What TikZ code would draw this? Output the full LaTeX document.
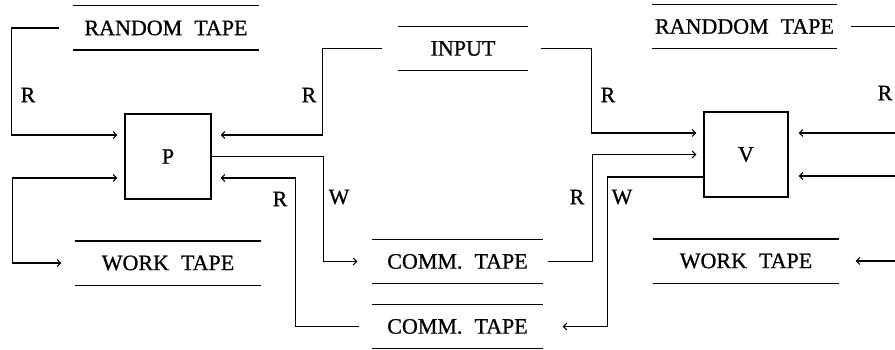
\documentclass[tikz,border=0pt]{standalone}
\usepackage{fontspec}
\setmainfont{Liberation Serif}[FakeBold=0.8]
\usetikzlibrary{arrows.meta,calc}
\newcommand\gap{\hspace{12pt}}
\begin{document}
\begin{tikzpicture}[x=1pt,y=-1pt,line width=1.1pt,
  lbl/.style={font=\fontsize{22}{22}\selectfont, inner sep=0pt},
  tape/.style={lbl, minimum height=43pt, minimum width=#1},
  proc/.style={draw, lbl, minimum width=#1, minimum height=85pt},
  conn/.style={-{Straight Barb[length=3.5pt,width=7pt]}},
  both/.style={{Straight Barb[length=3.5pt,width=7pt]}-{Straight Barb[length=3.5pt,width=7pt]}}]
\useasboundingbox (0,0) rectangle (895,350);
\clip (0,0) rectangle (895,350);
% tapes
\node[tape=184pt] (rt1)   at (166,28)    {\raisebox{-3pt}{RANDOM\gap TAPE}};
\node[tape=128pt] (input) at (463,48.5)  {INPUT};
\node[tape=184pt] (wt1)   at (168,263)   {WORK\gap TAPE};
\node[tape=169pt] (comm1) at (457.5,261.5) {COMM.\gap TAPE};
\node[tape=169pt] (comm2) at (457.5,326.5) {COMM.\gap TAPE};
\node[tape=183pt] (rt2)   at (744.5,26.5) {RANDDOM\gap TAPE};
\node[tape=184pt] (wt2)   at (746,261)   {WORK\gap TAPE};
\foreach \t in {rt1,input,wt1,comm1,comm2,rt2,wt2}
  \draw (\t.north west) -- (\t.north east) (\t.south west) -- (\t.south east);
% machines
\node[proc=86pt] (P) at (168,156.5) {P};
\node[proc=84pt] (V) at (746,154.5) {V};
% connectors
\draw[conn, shorten <=14pt, shorten >=7pt] (rt1.west) -| ($(P.west)+(-113,-21.5)$) -- ($(P.west)+(0,-21.5)$);
\draw[both, shorten <=7pt, shorten >=14pt] ($(P.west)+(0,21.5)$) -| ($(wt1.west)+(-63,0)$) -- (wt1.west);
\draw[conn, shorten <=16pt, shorten >=9pt] (input.west) -| ($(P.east)+(111,-21.5)$) -- ($(P.east)+(0,-21.5)$);
\draw[conn, shorten <=13pt, shorten >=7pt] (input.east) -| ($(V.west)+(-112,-21.5)$) -- ($(V.west)+(0,-21.5)$);
\draw[conn, shorten >=15pt] (P.east) -| ($(comm1.west)+(-49,0)$) -- (comm1.west);
\draw[conn, shorten <=13pt, shorten >=9pt] (comm2.west) -| ($(P.east)+(84,21.5)$) -- ($(P.east)+(0,21.5)$);
\draw[conn, shorten <=5pt, shorten >=7pt] (comm1.east) -| ($(V.west)+(-111,0)$) -- (V.west);
\draw[conn, shorten >=20pt] ($(V.west)+(0,22.5)$) -| ($(comm2.east)+(65,0)$) -- (comm2.east);
\draw[conn, shorten <=14pt, shorten >=10pt] (rt2.east) -| ($(V.east)+(132,-21.5)$) -- ($(V.east)+(0,-21.5)$);
\draw[both, shorten <=10pt, shorten >=17pt] ($(V.east)+(0,21.5)$) -| ($(wt2.east)+(82,0)$) -- (wt2.east);
% labels
\node[lbl] (l1) at (28,95)  {R};
\node[lbl] (l2) at (309,95) {R};
\node[lbl] (l3) at (608,95) {R};
\node[lbl] (l4) at (885,93) {R};
\node[lbl] (l5) at (280,199) {R};
\node[lbl] (l6) at (339,197) {W};
\node[lbl] (l7) at (577,197) {R};
\node[lbl] (l8) at (622,197) {W};
\end{tikzpicture}
\end{document}
